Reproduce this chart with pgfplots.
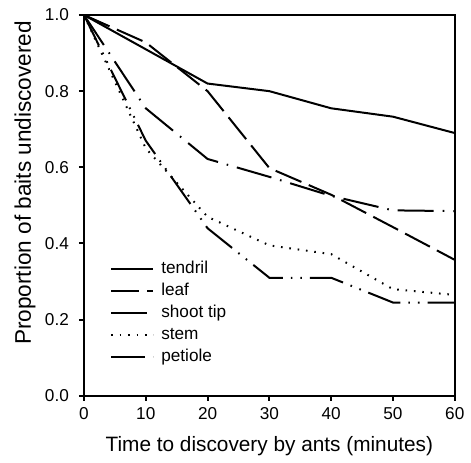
\documentclass[border=0pt]{standalone}
\usepackage{fontspec}
\setmainfont{Liberation Sans}
\usepackage{pgfplots}
\pgfplotsset{compat=1.18}
\begin{document}
\begin{tikzpicture}
\begin{axis}[
  scale only axis,
  width=185.5pt, height=190.5pt,
  xmin=0, xmax=60, ymin=0, ymax=1,
  xtick={0,10,...,60},
  ytick={0,0.2,0.4,0.6,0.8,1.0},
  yticklabel style={/pgf/number format/fixed, /pgf/number format/fixed zerofill, /pgf/number format/precision=1, xshift=-1.5pt},
  /pgf/number format/assume math mode=true,
  tick pos=left,
  tick align=outside,
  major tick length=2.5pt,
  axis line style={line width=1pt},
  every tick/.style={black, line width=1pt},
  tick label style={font=\fontsize{8.6}{10}\selectfont},
  xlabel={Time to discovery by ants (minutes)},
  ylabel={Proportion of baits undiscovered},
  xlabel style={font=\fontsize{10.4}{12.5}\selectfont, at={(axis description cs:0.5,0)}, anchor=base, yshift=-27.9pt},
  ylabel style={font=\fontsize{11.3}{13.5}\selectfont, at={(axis description cs:-0.159,0.559)}, anchor=center},
  clip=false,
  legend cell align=left,
  legend image code/.code={\draw[#1] (0pt,0pt) -- (21pt,0pt);},
  legend style={draw=none, fill=none, at={(rel axis cs:0.07,0.362)}, anchor=north west,
    font=\fontsize{8.6}{10}\selectfont, row sep=0pt, column sep=3.5pt, inner sep=0pt,
    nodes={inner sep=0pt, text height=7.8pt, text depth=3.2pt}},
]
\addplot[black, line width=1pt, no marks] coordinates {(0,1.0) (10,0.91) (20,0.82) (30,0.80) (40,0.755) (50,0.733) (60,0.69)};
\addlegendentry{tendril}
\addplot[black, line width=1pt, no marks, dash pattern=on 14pt off 4pt] coordinates {(0,1.0) (10,0.928) (20,0.80) (30,0.598) (40,0.528) (50,0.443) (60,0.357)};
\addlegendentry{leaf}
\addplot[black, line width=1pt, no marks, dash pattern=on 18pt off 4.5pt on 0.8pt off 4.5pt] coordinates {(0,1.0) (10,0.755) (20,0.622) (30,0.575) (40,0.525) (50,0.487) (60,0.485)};
\addlegendentry{shoot tip}
\addplot[black, line width=1pt, no marks, dash pattern=on 0.8pt off 3.4pt] coordinates {(0,1.0) (10,0.65) (20,0.47) (30,0.395) (40,0.372) (50,0.28) (60,0.265)};
\addlegendentry{stem}
\addplot[black, line width=1pt, no marks, dash pattern=on 17pt off 4pt on 0.8pt off 4pt on 0.8pt off 4pt] coordinates {(0,1.0) (10,0.67) (20,0.44) (30,0.31) (40,0.31) (50,0.245) (60,0.245)};
\addlegendentry{petiole}
\end{axis}
\path ([shift={(-42pt,-31.5pt)}]current axis.south west) rectangle ([shift={(8pt,7.5pt)}]current axis.north east);
\end{tikzpicture}
\end{document}
